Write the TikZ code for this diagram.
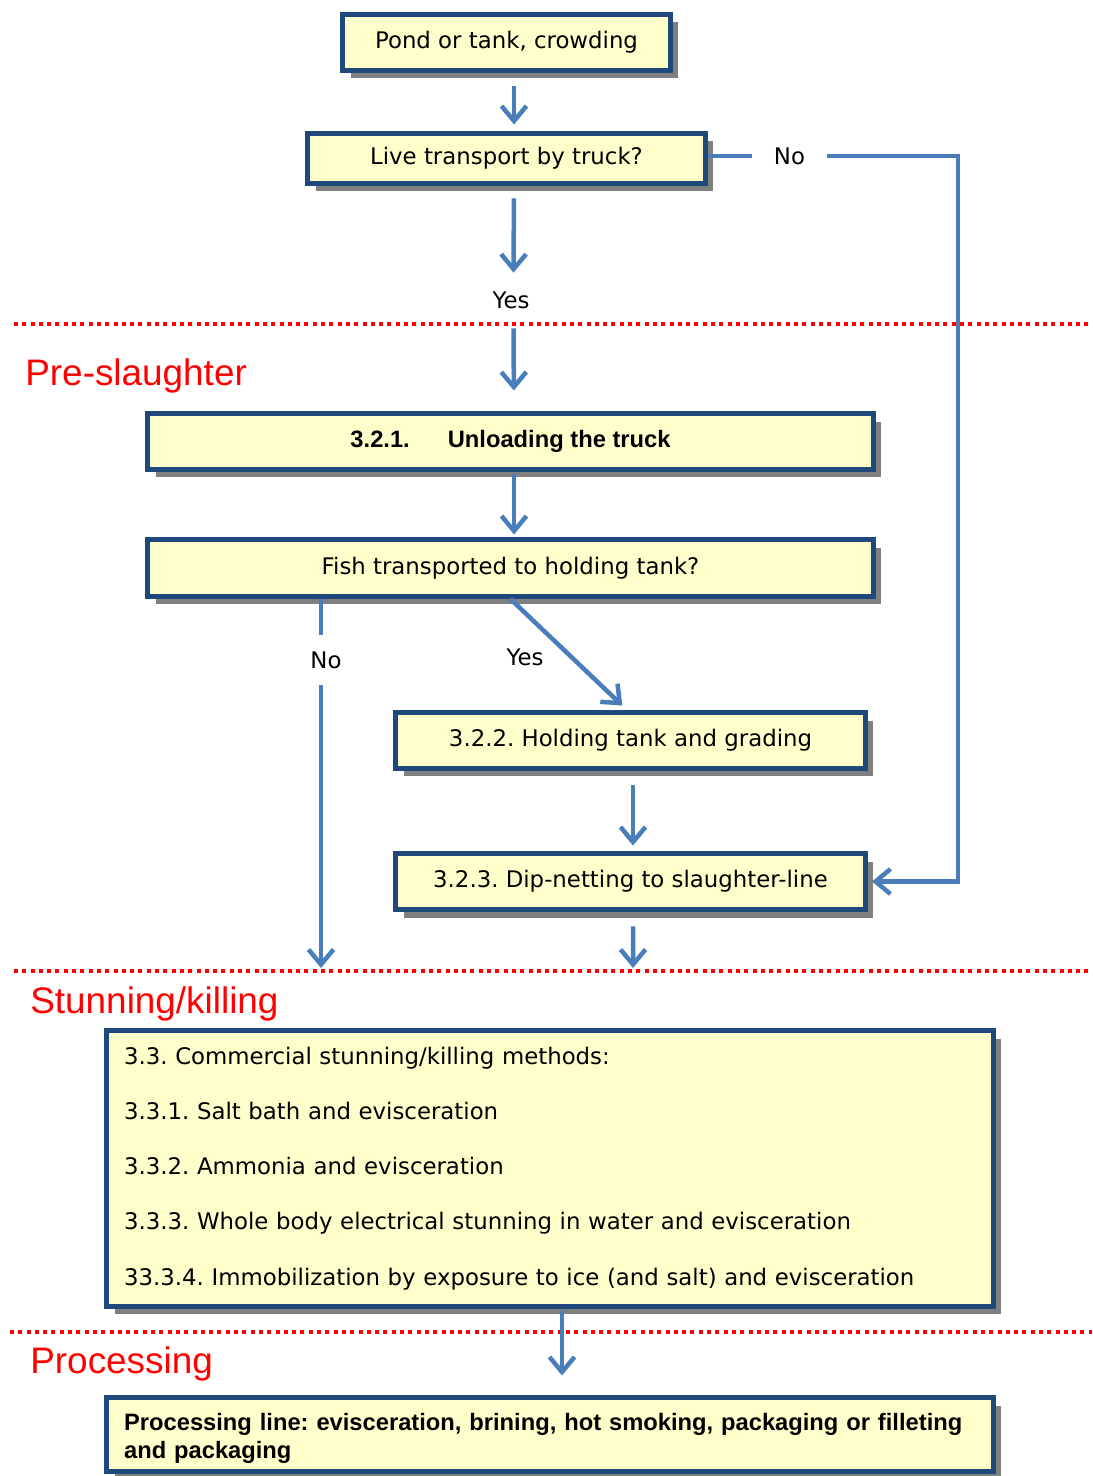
\documentclass[tikz,border=0pt]{standalone}
\usepackage{fontspec}
\setmainfont{DejaVu Sans}
\newfontfamily\arialfont{Liberation Sans}
\frenchspacing
\usetikzlibrary{arrows.meta,shadows}
\definecolor{boxblue}{RGB}{31,73,125}
\definecolor{boxfill}{RGB}{255,255,204}
\definecolor{flowblue}{RGB}{74,126,187}
\definecolor{shadowgray}{RGB}{128,128,128}

\begin{document}
\begin{tikzpicture}[x=0.02cm, y=-0.02cm]
\tikzset{box/.style = {shape=rectangle, draw=boxblue, line width=0.1cm, fill=boxfill, inner sep=0pt, font=\fontsize{13}{16}\selectfont, drop shadow={shadow xshift=0.16cm, shadow yshift=-0.16cm, fill=shadowgray, opacity=1}}}
    \tikzset{flow/.style = {draw=flowblue, line width=0.09cm}}
    \tikzset{flowarrow/.style = {flow, -{Straight Barb[length=0.3cm, width=0.5cm]}}}
    \tikzset{answer/.style = {font=\fontsize{13}{16}\selectfont, inner sep=0pt}}
    \tikzset{section/.style = {draw=red, line width=0.08cm, dash pattern=on 0.08cm off 0.086cm}}
    \tikzset{sectionlabel/.style = {text=red, font=\arialfont\fontsize{21}{25}\selectfont, anchor=west, inner sep=0pt}}
\useasboundingbox (0,0) rectangle (1092,1476);

% Section borders and their names
\draw[section] (14,324) -- (1092,324);
\draw[section] (14,971) -- (1092,971);
\draw[section] (10,1332) -- (1092,1332);
\node[sectionlabel] (pre) at (25,376) {Pre-slaughter};
\node[sectionlabel] (stunlabel) at (30,1004) {Stunning/killing};
\node[sectionlabel] (proclabel) at (30,1364) {Processing};

% Steps
\node[box, minimum width=6.56cm, minimum height=1.12cm] (pond) at (506.5,42.5) {Pond or tank, crowding};
\node[box, minimum width=7.96cm, minimum height=1cm] (truck) at (506.5,158.5) {Live transport by truck?};
\node[box, minimum width=14.52cm, minimum height=1.12cm, font=\arialfont\bfseries\fontsize{13.5}{16}\selectfont] (unload) at (510.5,441.5) {3.2.1.\hspace{0.76cm}Unloading the truck};
\node[box, minimum width=14.52cm, minimum height=1.14cm] (holdq) at (510.5,568) {Fish transported to holding tank?};
\node[box, minimum width=9.4cm, minimum height=1.12cm] (holding) at (630.5,740.5) {3.2.2. Holding tank and grading};
\node[box, minimum width=9.4cm, minimum height=1.12cm] (dipnet) at (630.5,881.5) {3.2.3. Dip-netting to slaughter-line};
\node[box, minimum width=17.74cm, minimum height=5.52cm, text width=17.04cm, align=left, inner xsep=0.35cm, font=\fontsize{13}{31.4}\selectfont] (stun) at (550,1168.5) {3.3. Commercial stunning/killing methods:\\
3.3.1. Salt bath and evisceration\\
3.3.2. Ammonia and evisceration\\
3.3.3. Whole body electrical stunning in water and evisceration\\
33.3.4. Immobilization by exposure to ice (and salt) and evisceration};
\node[box, minimum width=17.74cm, minimum height=1.48cm, text width=17.04cm, align=left, inner xsep=0.35cm, font=\arialfont\bfseries\fontsize{13.5}{15.9}\selectfont] (proc) at (550,1434.5) {\rule{0pt}{14.5pt}Processing line: evisceration, brining, hot smoking, packaging or filleting\\and packaging};

% Yes / No answers
\node[answer, minimum width=1.5cm] (no1) at (789.5,156) {No};
\node[answer, minimum height=1.1cm] (yes1) at (511,300.5) {Yes};
\node[answer] (yes2) at (525,657) {Yes};
\node[answer, minimum height=1cm] (no2) at (326,660) {No};
\coordinate (turn) at (958,881.5);
\coordinate (dipend) at (633,968);
\coordinate (noend) at (321,968);

% Connectors
\draw[flowarrow, shorten <=0.27cm, shorten >=0.13cm] ([xshift=0.15cm]pond.south) -- ([xshift=0.15cm]truck.north);
\draw[flowarrow, shorten <=0.25cm] ([xshift=0.15cm]truck.south) -- ([xshift=0.05cm]yes1.north);
\draw[flowarrow, shorten >=0.41cm] ([xshift=0.05cm]yes1.south) -- ([xshift=0.07cm]unload.north);
\draw[flow] (truck.east |- no1.west) -- (no1.west);
\draw[flowarrow, shorten >=0.08cm] (no1.east) -| (turn) -- (dipnet.east);
\draw[flowarrow, shorten <=0.05cm, shorten >=0.05cm] ([xshift=0.07cm]unload.south) -- ([xshift=0.07cm]holdq.north);
\draw[flowarrow, shorten >=0.13cm] (holdq.south) -- ([xshift=-0.07cm]holding.north);
\draw[flow] (holdq.south -| noend) -- (no2.north -| noend);
\draw[flowarrow] (no2.south -| noend) -- (noend);
\draw[flowarrow, shorten <=0.29cm, shorten >=0.11cm] ([xshift=0.05cm]holding.south) -- ([xshift=0.05cm]dipnet.north);
\draw[flowarrow, shorten <=0.29cm] ([xshift=0.05cm]dipnet.south) -- (dipend);
\draw[flowarrow, shorten <=0.05cm, shorten >=0.39cm] ([xshift=0.24cm]stun.south) -- ([xshift=0.24cm]proc.north);
\end{tikzpicture}
\end{document}
